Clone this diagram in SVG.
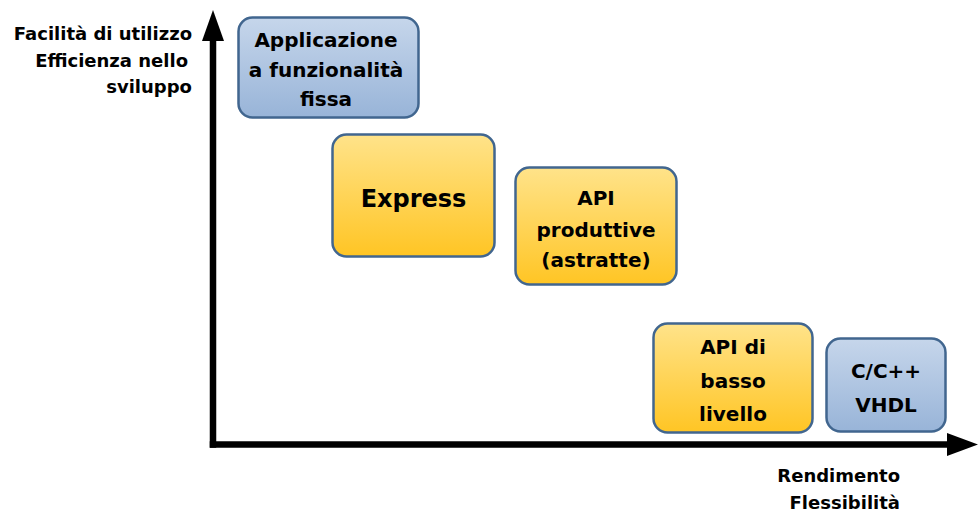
<svg xmlns="http://www.w3.org/2000/svg" width="978" height="515" viewBox="0 0 978 515">
<defs>
<linearGradient id="gBlue" x1="0" y1="0" x2="0" y2="1">
<stop offset="0" stop-color="#c6d6eb"/>
<stop offset="1" stop-color="#98b4d8"/>
</linearGradient>
<linearGradient id="gYel" x1="0" y1="0" x2="0" y2="1">
<stop offset="0" stop-color="#ffe38a"/>
<stop offset="1" stop-color="#ffc524"/>
</linearGradient>
<style>
.box{stroke:#41668f;stroke-width:2.5}
.b{fill:url(#gBlue)}
.y{fill:url(#gYel)}
text{font-family:"DejaVu Sans","Liberation Sans",sans-serif;font-weight:bold;fill:#000}
.t{font-size:20px;text-anchor:middle}
.lab{font-size:18px;text-anchor:end}
.axis{stroke:#000;stroke-width:6.5;fill:none}
</style>
</defs>
<rect width="978" height="515" fill="#fff"/>
<g id="axes">
<line class="axis" x1="213" y1="36" x2="213" y2="447.75"/>
<line class="axis" x1="209.75" y1="444.5" x2="950" y2="444.5"/>
<polygon points="213,10 202,41 224,41" fill="#000"/>
<polygon points="978,444.5 947,433 947,456" fill="#000"/>
</g>
<g id="ylabel">
<text class="lab" x="192" y="40">Facilità di utilizzo</text>
<text class="lab" x="188" y="67">Efficienza nello</text>
<text class="lab" x="192" y="93">sviluppo</text>
</g>
<g id="xlabel">
<text class="lab" x="900" y="482">Rendimento</text>
<text class="lab" x="900" y="509">Flessibilità</text>
</g>
<g id="app">
<rect class="box b" x="238.5" y="17.5" width="180" height="100" rx="14"/>
<text class="t" x="326" y="47">Applicazione</text>
<text class="t" x="326" y="77">a funzionalità</text>
<text class="t" x="326" y="106">fissa</text>
</g>
<g id="express">
<rect class="box y" x="332.5" y="134.5" width="162" height="122" rx="14"/>
<text class="t" x="413.5" y="207" style="font-size:24px">Express</text>
</g>
<g id="apiprod">
<rect class="box y" x="515.5" y="167.5" width="161" height="117" rx="14"/>
<text class="t" x="596" y="205">API</text>
<text class="t" x="596" y="237">produttive</text>
<text class="t" x="596" y="267">(astratte)</text>
</g>
<g id="apibasso">
<rect class="box y" x="653.5" y="323.5" width="159" height="109" rx="14"/>
<text class="t" x="733" y="354">API di</text>
<text class="t" x="733" y="388">basso</text>
<text class="t" x="733" y="421">livello</text>
</g>
<g id="cvhdl">
<rect class="box b" x="826.5" y="338.5" width="119" height="93" rx="14"/>
<text class="t" x="886" y="378">C/C++</text>
<text class="t" x="886" y="412">VHDL</text>
</g>
</svg>
